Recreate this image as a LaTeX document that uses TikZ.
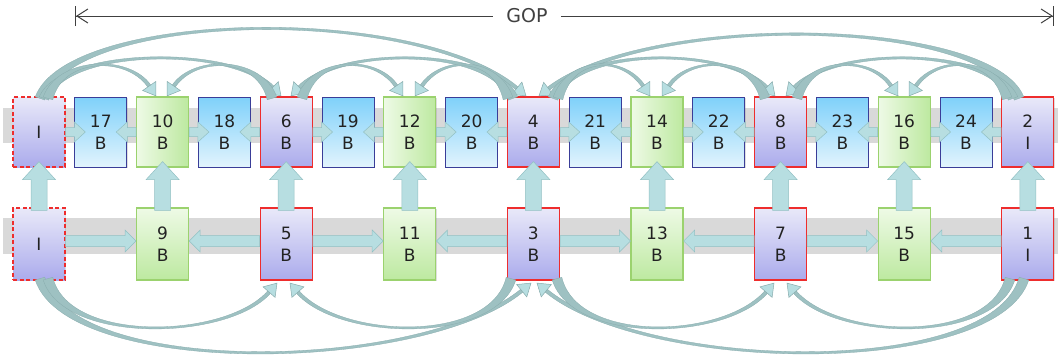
\documentclass[tikz,border=0pt]{standalone}
\usepackage{fontspec}
\setmainfont{DejaVu Sans}
\usetikzlibrary{calc,arrows.meta,shadows}

\definecolor{bandgray}{HTML}{D9D9D9}
\definecolor{lavtop}{HTML}{E9E9F9}
\definecolor{lavbot}{HTML}{ABABEC}
\definecolor{frameR}{HTML}{EE2D2D}
\definecolor{bluetop}{HTML}{7FD1FA}
\definecolor{bluebot}{HTML}{E2F4FD}
\definecolor{blueR}{HTML}{3A3D98}
\definecolor{greenA}{HTML}{EEFAE6}
\definecolor{greenB}{HTML}{BDE9A0}
\definecolor{greenR}{HTML}{9BD26E}
\definecolor{arrfill}{HTML}{B7DEE1}
\definecolor{arredge}{HTML}{92C0C3}
\definecolor{curvefill}{HTML}{9EC1C2}
\definecolor{curveedge}{HTML}{88ACAD}
\definecolor{txt}{HTML}{222222}
\definecolor{dimcol}{HTML}{404040}

% straight block arrow from #1 to #2: shaft half width #3, head half width #4, head length #5
\newcommand\fatarrow[5]{%
  \coordinate (fa) at #1;
  \coordinate (fb) at #2;
  \coordinate (fh) at ($(fb)!#5!(fa)$);
  \filldraw[fatarr] ($(fa)!#3!90:(fb)$) -- ($(fh)!#3!90:(fb)$) -- ($(fh)!#4!90:(fb)$) -- (fb)
     -- ($(fh)!#4!-90:(fb)$) -- ($(fh)!#3!-90:(fb)$) -- ($(fa)!#3!-90:(fb)$) -- cycle;
}

% tapered curved reference arrow: source #1, controls #2 and #3, tip #4
\newcommand\refcurve[4]{%
  \coordinate (rS) at #1; \coordinate (rA) at #2;
  \coordinate (rB) at #3; \coordinate (rT) at #4;
  \coordinate (rE) at ($(rT)!12pt!(rB)$);
  \coordinate (sL) at ($(rS)!5pt!90:(rA)$);
  \coordinate (sR) at ($(rS)!5pt!-90:(rA)$);
  \coordinate (eL) at ($(rE)!1.8pt!-90:(rB)$);
  \coordinate (eR) at ($(rE)!1.8pt!90:(rB)$);
  \filldraw[curveband] (sL) .. controls ($(rA)+0.5*(sL)-0.5*(rS)$) and ($(rB)+(eL)-(rE)$) .. (eL)
     -- (eR) .. controls ($(rB)+(eR)-(rE)$) and ($(rA)+0.5*(sR)-0.5*(rS)$) .. (sR) -- cycle;
  \filldraw[curvehead] (rT) -- ($(rE)!8pt!90:(rT)$) -- ($(rE)!8pt!-90:(rT)$) -- cycle;
}

\tikzset{
  frame/.style={minimum width=52pt, minimum height=70pt, inner sep=0pt, align=center,
    text=txt, font=\fontsize{17}{22}\selectfont, line width=1.2pt,
    drop shadow={shadow xshift=0.8pt, shadow yshift=-1.2pt, opacity=0.25}},
  low/.style={minimum height=72pt},
  bframe/.style={frame, draw=blueR, top color=bluetop, bottom color=bluebot, line width=0.9pt},
  refframe/.style={frame, draw=frameR, top color=lavtop, bottom color=lavbot},
  iframe/.style={refframe, dash pattern=on 4pt off 2.5pt},
  gframe/.style={frame, draw=greenR, left color=greenA, right color=greenB},
  gvframe/.style={frame, draw=greenR, top color=greenA, bottom color=greenB},
  fatarr/.style={fill=arrfill, draw=arredge, line width=0.5pt, line join=miter},
  curveband/.style={fill=curvefill, draw=curveedge, line width=0.3pt},
  curvehead/.style={fill=arrfill, draw=curveedge, line width=0.5pt, line join=miter},
  dimline/.style={draw=dimcol, line width=1pt},
}

\begin{document}
\begin{tikzpicture}[x=1pt, y=-1pt]
\useasboundingbox (0,0) rectangle (1058,359);

% grey lanes behind the two rows
\fill[bandgray] (3,108) rectangle (1058,143);
\fill[bandgray] (3,218) rectangle (1058,254);

% ---- top row ----
\node[iframe]   (tI)  at (39,132)    {I};
\node[bframe]   (t17) at (100.8,132) {17\\B};
\node[gframe]   (t10) at (162.6,132) {10\\B};
\node[bframe]   (t18) at (224.4,132) {18\\B};
\node[refframe] (t6)  at (286.2,132) {6\\B};
\node[bframe]   (t19) at (348,132)   {19\\B};
\node[gframe]   (t12) at (409.8,132) {12\\B};
\node[bframe]   (t20) at (471.6,132) {20\\B};
\node[refframe] (t4)  at (533.4,132) {4\\B};
\node[bframe]   (t21) at (595.2,132) {21\\B};
\node[gframe]   (t14) at (657,132)   {14\\B};
\node[bframe]   (t22) at (718.8,132) {22\\B};
\node[refframe] (t8)  at (780.6,132) {8\\B};
\node[bframe]   (t23) at (842.4,132) {23\\B};
\node[gframe]   (t16) at (904.2,132) {16\\B};
\node[bframe]   (t24) at (966,132)   {24\\B};
\node[refframe] (t2)  at (1027.8,132) {2\\I};

% ---- bottom row ----
\node[iframe, low]   (bI)  at (39,244)    {I};
\node[gvframe, low]  (b9)  at (162.6,244) {9\\B};
\node[refframe, low] (b5)  at (286.2,244) {5\\B};
\node[gvframe, low]  (b11) at (409.8,244) {11\\B};
\node[refframe, low] (b3)  at (533.4,244) {3\\B};
\node[gvframe, low]  (b13) at (657,244)   {13\\B};
\node[refframe, low] (b7)  at (780.6,244) {7\\B};
\node[gvframe, low]  (b15) at (904.2,244) {15\\B};
\node[refframe, low] (b1)  at (1027.8,244) {1\\I};

% ---- curved references above the top row ----
\refcurve{([xshift=1pt,yshift=-2pt]tI.north)}{(70,10)}{(416,4)}{([xshift=-7.4pt,yshift=.5pt]t4.north)}
\refcurve{([xshift=-8.8pt,yshift=-2pt]t2.north)}{(989,17)}{(649,12)}{([xshift=5.6pt,yshift=.5pt]t4.north)}
\refcurve{([xshift=5pt,yshift=-2pt]tI.north)}{(62,48)}{(231,45)}{([xshift=-5.2pt,yshift=.5pt]t6.north)}
\refcurve{([xshift=-20.4pt,yshift=-2pt]t4.north)}{(495,48)}{(341,45)}{([xshift=4.8pt,yshift=.5pt]t6.north)}
\refcurve{([xshift=19.6pt,yshift=-2pt]t4.north)}{(571,48)}{(725,45)}{([xshift=-5.6pt,yshift=.5pt]t8.north)}
\refcurve{([xshift=-14.8pt,yshift=-2pt]t2.north)}{(995,48)}{(836,45)}{([xshift=5.4pt,yshift=.5pt]t8.north)}
\refcurve{([xshift=9pt,yshift=-2pt]tI.north)}{(60,57)}{(128,55)}{([xshift=-6.6pt,yshift=.5pt]t10.north)}
\refcurve{([xshift=-14.2pt,yshift=-2pt]t6.north)}{(260,57)}{(195,55)}{([xshift=4.4pt,yshift=.5pt]t10.north)}
\refcurve{([xshift=15.8pt,yshift=-2pt]t6.north)}{(314,57)}{(375,55)}{([xshift=-6.8pt,yshift=.5pt]t12.north)}
\refcurve{([xshift=-25.4pt,yshift=-2pt]t4.north)}{(496,57)}{(443,55)}{([xshift=5.2pt,yshift=.5pt]t12.north)}
\refcurve{([xshift=24.6pt,yshift=-2pt]t4.north)}{(570,57)}{(622,55)}{([xshift=-7pt,yshift=.5pt]t14.north)}
\refcurve{([xshift=-15.6pt,yshift=-2pt]t8.north)}{(753,57)}{(690,55)}{([xshift=5pt,yshift=.5pt]t14.north)}
\refcurve{([xshift=16.4pt,yshift=-2pt]t8.north)}{(809,57)}{(870,55)}{([xshift=-6.2pt,yshift=.5pt]t16.north)}
\refcurve{([xshift=-20.8pt,yshift=-2pt]t2.north)}{(995,57)}{(937,55)}{([xshift=4.8pt,yshift=.5pt]t16.north)}

% ---- curved references below the bottom row ----
\refcurve{([xshift=1pt,yshift=2pt]bI.south)}{(70,378)}{(421,373)}{([xshift=-2.4pt,yshift=-2.5pt]b3.south)}
\refcurve{([xshift=-3.8pt,yshift=2pt]b1.south)}{(994,378)}{(647,373)}{([xshift=3.6pt,yshift=-2.5pt]b3.south)}
\refcurve{([xshift=9pt,yshift=2pt]bI.south)}{(66,344)}{(227,340)}{([xshift=-9.2pt,yshift=-2.5pt]b5.south)}
\refcurve{([xshift=-22.4pt,yshift=2pt]b3.south)}{(493,344)}{(340,340)}{([xshift=3.8pt,yshift=-2.5pt]b5.south)}
\refcurve{([xshift=23.6pt,yshift=2pt]b3.south)}{(575,344)}{(724,340)}{([xshift=-6.6pt,yshift=-2.5pt]b7.south)}
\refcurve{([xshift=-17.8pt,yshift=2pt]b1.south)}{(992,344)}{(837,340)}{([xshift=6.4pt,yshift=-2.5pt]b7.south)}

% ---- neighbour references in the top row ----
\fatarrow{(tI.east)}{([xshift=11pt]t17.west)}{4.5pt}{10pt}{11pt}
\fatarrow{(t10.west)}{([xshift=-11pt]t17.east)}{4.5pt}{10pt}{11pt}
\fatarrow{(t10.east)}{([xshift=11pt]t18.west)}{4.5pt}{10pt}{11pt}
\fatarrow{(t6.west)}{([xshift=-11pt]t18.east)}{4.5pt}{10pt}{11pt}
\fatarrow{(t6.east)}{([xshift=11pt]t19.west)}{4.5pt}{10pt}{11pt}
\fatarrow{(t12.west)}{([xshift=-11pt]t19.east)}{4.5pt}{10pt}{11pt}
\fatarrow{(t12.east)}{([xshift=11pt]t20.west)}{4.5pt}{10pt}{11pt}
\fatarrow{(t4.west)}{([xshift=-11pt]t20.east)}{4.5pt}{10pt}{11pt}
\fatarrow{(t4.east)}{([xshift=11pt]t21.west)}{4.5pt}{10pt}{11pt}
\fatarrow{(t14.west)}{([xshift=-11pt]t21.east)}{4.5pt}{10pt}{11pt}
\fatarrow{(t14.east)}{([xshift=11pt]t22.west)}{4.5pt}{10pt}{11pt}
\fatarrow{(t8.west)}{([xshift=-11pt]t22.east)}{4.5pt}{10pt}{11pt}
\fatarrow{(t8.east)}{([xshift=11pt]t23.west)}{4.5pt}{10pt}{11pt}
\fatarrow{(t16.west)}{([xshift=-11pt]t23.east)}{4.5pt}{10pt}{11pt}
\fatarrow{(t16.east)}{([xshift=11pt]t24.west)}{4.5pt}{10pt}{11pt}
\fatarrow{(t2.west)}{([xshift=-11pt]t24.east)}{4.5pt}{10pt}{11pt}

% ---- references in the bottom row ----
\fatarrow{([yshift=3pt]bI.east)}{([yshift=3pt]b9.west)}{5.5pt}{11pt}{11pt}
\fatarrow{([yshift=3pt]b5.west)}{([yshift=3pt]b9.east)}{5.5pt}{11pt}{11pt}
\fatarrow{([yshift=3pt]b5.east)}{([yshift=3pt]b11.west)}{5.5pt}{11pt}{11pt}
\fatarrow{([yshift=3pt]b3.west)}{([yshift=3pt]b11.east)}{5.5pt}{11pt}{11pt}
\fatarrow{([yshift=3pt]b3.east)}{([yshift=3pt]b13.west)}{5.5pt}{11pt}{11pt}
\fatarrow{([yshift=3pt]b7.west)}{([yshift=3pt]b13.east)}{5.5pt}{11pt}{11pt}
\fatarrow{([yshift=3pt]b7.east)}{([yshift=3pt]b15.west)}{5.5pt}{11pt}{11pt}
\fatarrow{([yshift=3pt]b1.west)}{([yshift=3pt]b15.east)}{5.5pt}{11pt}{11pt}

% ---- bottom row feeds the top row ----
\foreach \lo/\hi in {bI/tI, b9/t10, b5/t6, b11/t12, b3/t4, b13/t14, b7/t8, b15/t16, b1/t2}{
  \fatarrow{([yshift=-3pt]\lo.north)}{([yshift=6pt]\hi.south)}{8pt}{16.5pt}{18pt}
}

% ---- GOP extent ----
\coordinate (gl) at (75,16);
\coordinate (gr) at (1054,16);
\node[font=\fontsize{19}{19}\selectfont, text=dimcol, inner xsep=13pt, inner ysep=2pt] (gop) at (527,16) {GOP};
\draw[dimline, {Bar[width=20pt]Straight Barb[length=11pt,width=14pt]}-] (gl) -- (gop.west);
\draw[dimline, -{Straight Barb[length=11pt,width=14pt]Bar[width=20pt]}] (gop.east) -- (gr);
\end{tikzpicture}
\end{document}
